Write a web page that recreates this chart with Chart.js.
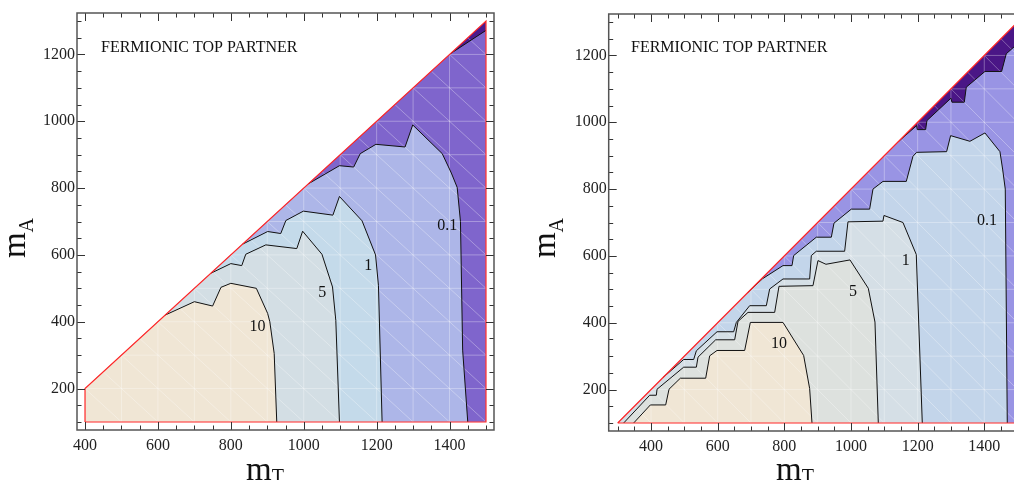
<!DOCTYPE html>
<html>
<head>
<meta charset="utf-8">
<script src="https://cdn.jsdelivr.net/npm/chart.js@4.4.0/dist/chart.umd.min.js"></script>
<style>
  html, body { margin: 0; padding: 0; background: #fff; overflow: hidden; }
  body { width: 1014px; height: 480px; position: relative; }
  canvas { position: absolute; top: 0; }
  #cLeft { left: 0; }
  #cRight { left: 510px; }
</style>
</head>
<body>
<canvas id="cLeft" width="510" height="480"></canvas>
<canvas id="cRight" width="530" height="480"></canvas>
<script>
// ---- shared axis values ----
const xTicks = [400, 600, 800, 1000, 1200, 1400];
const yTicks = [200, 400, 600, 800, 1000, 1200];
const MINOR_STEP = 50;
const panelTitle = 'FERMIONIC TOP PARTNER';

// ---- left panel ----
const leftX = [378, 1522];
const leftY = [76, 1324];
const leftCorner = [[400, 100], [400, 200]];
const leftDomain = [[400, 100], [400, 200], [1500, 1300], [1500, 100]];
const leftC001 = [[1402, 1202], [1500, 1272]];
const leftC01 = [[1013, 813], [1098, 867], [1137, 863], [1155, 903], [1198, 931], [1278, 923], [1299, 989],
                 [1380, 903], [1405, 845], [1421, 802], [1430, 700], [1436, 315], [1450, 100]];
const leftC1 = [[832, 632], [901, 670], [937, 664], [951, 703], [999, 731], [1080, 719], [1098, 775],
                [1160, 702], [1197, 600], [1205, 509], [1215, 100]];
const leftC5 = [[745, 545], [800, 574], [830, 568], [841, 602], [896, 630], [981, 619], [997, 671],
                [1050, 602], [1079, 504], [1088, 404], [1098, 100]];
const leftC10 = [[620, 420], [700, 460], [750, 447], [773, 503], [800, 515], [870, 500], [901, 425],
                 [907, 400], [919, 305], [926, 100]];
const leftLabels = [[1394, 686, '0.1'], [1177, 566, '1'], [1051, 488, '5'], [873, 385, '10']];
const leftColors = ['#4b198c', '#7f65cc', '#adb6e8', '#c4daea', '#d3dee4', '#f0e6d5'];

// ---- right panel ----
const rightX = [273, 1524];
const rightY = [76, 1324];
const rightCorner = [[300, 100]];
const rightDomain = [[300, 100], [1500, 1300], [1500, 100]];
const rightC001 = [[1140, 940], [1197, 990], [1199, 978], [1224, 978], [1228, 1005], [1300, 1072], [1303, 1060],
                   [1340, 1060], [1346, 1105], [1402, 1152], [1452, 1152], [1466, 1205], [1500, 1235]];
const rightC01 = [[690, 490], [735, 532], [796, 571], [823, 571], [828, 601], [896, 656], [941, 656], [949, 698],
                  [1001, 740], [1056, 740], [1066, 800], [1096, 823], [1166, 823], [1186, 898], [1197, 910],
                  [1287, 912], [1299, 960], [1357, 943], [1402, 968], [1447, 912], [1455, 860], [1463, 800], [1469, 100]];
const rightC1 = [[436, 236], [498, 290], [528, 290], [536, 316], [598, 373], [648, 373], [656, 401], [696, 451],
                 [746, 451], [756, 501], [796, 531], [876, 531], [881, 601], [896, 614], [981, 614], [991, 702],
                 [1096, 704], [1099, 721], [1156, 700], [1196, 604], [1214, 100]];
const rightC5 = [[318, 100], [396, 183], [416, 183], [418, 201], [498, 267], [536, 267], [541, 297], [594, 349],
                 [651, 349], [661, 404], [691, 431], [771, 431], [784, 509], [886, 511], [901, 586], [925, 575],
                 [997, 588], [1052, 503], [1072, 402], [1082, 100]];
const rightC10 = [[348, 100], [398, 154], [444, 154], [454, 201], [488, 234], [564, 234], [576, 301], [598, 317],
                  [681, 317], [698, 401], [796, 401], [858, 302], [876, 203], [883, 100]];
const rightLabels = [[1408, 704, '0.1'], [1164, 584, '1'], [1006, 494, '5'], [784, 337, '10']];
const rightColors = ['#4a1686', '#9994e4', '#c3d5ea', '#d5dfe6', '#dde1de', '#f0e6d5'];

const SERIF = '"Liberation Serif", "Times New Roman", serif';

function toXY(arr) { return arr.map(p => ({ x: p[0], y: p[1] })); }

// region where the value is above a level: boundary corners + contour + close along bottom/right edge
function regionPolygon(contour, corner, domain) {
  const pts = [];
  const first = contour[0], last = contour[contour.length - 1];
  const bottom = domain[0][1];
  const xRight = domain[domain.length - 1][0];
  if (first[1] > bottom) pts.push(...corner);
  pts.push(...contour);
  if (last[1] > bottom) pts.push([xRight, bottom]);
  return pts;
}

function pix(chart, p) {
  return [chart.scales.x.getPixelForValue(p[0]), chart.scales.y.getPixelForValue(p[1])];
}

const panelPlugin = {
  id: 'panel',
  afterDatasetDraw(chart, args, opts) {
    const ds = chart.data.datasets[args.index];
    if (!ds.meshAfter) return;
    const ctx = chart.ctx;
    ctx.save();
    ctx.beginPath();
    opts.domain.forEach((p, i) => {
      const [u, v] = pix(chart, p);
      if (i) ctx.lineTo(u, v); else ctx.moveTo(u, v);
    });
    ctx.closePath();
    ctx.clip();
    ctx.strokeStyle = 'rgba(255,255,255,0.32)';
    ctx.lineWidth = 1;
    ctx.beginPath();
    for (let k = 0; k <= 3200; k += 100) {
      let a = pix(chart, [k, 0]), b = pix(chart, [k, 1500]);
      ctx.moveTo(a[0], a[1]); ctx.lineTo(b[0], b[1]);
      a = pix(chart, [0, k]); b = pix(chart, [1700, k]);
      ctx.moveTo(a[0], a[1]); ctx.lineTo(b[0], b[1]);
      a = pix(chart, [k, 0]); b = pix(chart, [k - 1600, 1600]);
      ctx.moveTo(a[0], a[1]); ctx.lineTo(b[0], b[1]);
    }
    ctx.stroke();
    ctx.restore();
  },
  afterDraw(chart, args, opts) {
    const ctx = chart.ctx, a = chart.chartArea;
    const sx = chart.scales.x, sy = chart.scales.y;
    ctx.save();
    // inward ticks on all four sides
    ctx.strokeStyle = '#333';
    ctx.lineWidth = 1;
    ctx.beginPath();
    for (let v = Math.ceil(sx.min / MINOR_STEP) * MINOR_STEP; v <= sx.max; v += MINOR_STEP) {
      const u = Math.round(sx.getPixelForValue(v)) + 0.5;
      const len = xTicks.includes(v) ? 8 : 4.5;
      ctx.moveTo(u, a.bottom); ctx.lineTo(u, a.bottom - len);
      ctx.moveTo(u, a.top); ctx.lineTo(u, a.top + len);
    }
    for (let v = Math.ceil(sy.min / MINOR_STEP) * MINOR_STEP; v <= sy.max; v += MINOR_STEP) {
      const w = Math.round(sy.getPixelForValue(v)) + 0.5;
      const len = yTicks.includes(v) ? 8 : 4.5;
      ctx.moveTo(a.left, w); ctx.lineTo(a.left + len, w);
      ctx.moveTo(a.right, w); ctx.lineTo(a.right - len, w);
    }
    ctx.stroke();
    ctx.strokeStyle = '#555';
    ctx.lineWidth = 1.5;
    ctx.strokeRect(a.left, a.top, a.right - a.left, a.bottom - a.top);

    // panel title
    ctx.fillStyle = '#111';
    ctx.font = '16px ' + SERIF;
    ctx.textAlign = 'left';
    ctx.textBaseline = 'alphabetic';
    ctx.fillText(panelTitle, a.left + opts.titleDx, 52);

    // contour labels
    ctx.textAlign = 'center';
    ctx.textBaseline = 'middle';
    opts.labels.forEach(l => {
      const [u, v] = pix(chart, l);
      ctx.fillText(l[2], u, v);
    });

    // axis titles with subscripts
    ctx.textAlign = 'left';
    ctx.textBaseline = 'alphabetic';
    ctx.font = '33px ' + SERIF;
    const mw = ctx.measureText('m').width;
    ctx.font = '20px ' + SERIF;
    const tw = ctx.measureText('T').width;
    const aw = ctx.measureText('A').width;
    let s = opts.xTitleX - (mw + tw) / 2;
    ctx.font = '33px ' + SERIF;
    ctx.fillText('m', s, 480);
    ctx.font = '20px ' + SERIF;
    ctx.fillText('T', s + mw, 483);

    ctx.translate(opts.yTitleX, opts.yTitleY);
    ctx.rotate(-Math.PI / 2);
    s = -(mw + aw) / 2;
    ctx.font = '33px ' + SERIF;
    ctx.fillText('m', s, 0);
    ctx.font = '20px ' + SERIF;
    ctx.fillText('A', s + mw, 8);
    ctx.restore();
  }
};

function makePanel(canvasId, p) {
  const contours = [p.c001, p.c01, p.c1, p.c5, p.c10];
  const datasets = [];
  // domain: everything below the lowest level
  datasets.push({
    data: toXY(p.domain), showLine: true, fill: 'shape', backgroundColor: p.colors[0],
    borderWidth: 0, borderColor: 'transparent', pointRadius: 0, order: 20
  });
  contours.forEach((c, i) => {
    datasets.push({
      data: toXY(regionPolygon(c, p.corner, p.domain)), showLine: true, fill: 'shape',
      backgroundColor: p.colors[i + 1], borderWidth: 0, borderColor: 'transparent',
      pointRadius: 0, order: 19 - i, meshAfter: i === contours.length - 1
    });
  });
  contours.forEach(c => {
    datasets.push({
      data: toXY(c), showLine: true, fill: false, borderColor: '#111', borderWidth: 1,
      pointRadius: 0, order: 5
    });
  });
  datasets.push({
    data: toXY([...p.domain, p.domain[0]]), showLine: true, fill: false,
    borderColor: '#ff2626', borderWidth: 1.2, pointRadius: 0, order: 0
  });

  const tickFont = { family: SERIF, size: 16 };
  return new Chart(document.getElementById(canvasId), {
    type: 'scatter',
    data: { datasets },
    options: {
      responsive: false,
      devicePixelRatio: 1,
      animation: false,
      events: [],
      layout: { padding: { top: p.padTop, right: p.padRight, left: 0, bottom: 0 } },
      plugins: {
        legend: { display: false },
        tooltip: { enabled: false },
        panel: {
          domain: p.domain, labels: p.labels, titleDx: p.titleDx,
          xTitleX: p.xTitleX, yTitleX: p.yTitleX, yTitleY: 238
        }
      },
      scales: {
        x: {
          type: 'linear', position: 'bottom', min: p.xRange[0], max: p.xRange[1],
          afterBuildTicks: s => { s.ticks = xTicks.map(v => ({ value: v })); },
          afterFit: s => { s.height = p.xHeight; },
          grid: { display: false, drawTicks: false },
          border: { display: false },
          ticks: { font: tickFont, color: '#222', padding: 6, maxRotation: 0, minRotation: 0,
                   autoSkip: false, callback: v => String(v) }
        },
        y: {
          type: 'linear', position: 'left', min: p.yRange[0], max: p.yRange[1],
          afterBuildTicks: s => { s.ticks = yTicks.map(v => ({ value: v })); },
          afterFit: s => { s.width = p.yWidth; },
          grid: { display: false, drawTicks: false },
          border: { display: false },
          ticks: { font: tickFont, color: '#222', padding: 2, autoSkip: false, callback: v => String(v) }
        }
      }
    },
    plugins: [panelPlugin]
  });
}

makePanel('cLeft', {
  xRange: leftX, yRange: leftY, corner: leftCorner, domain: leftDomain,
  c001: leftC001, c01: leftC01, c1: leftC1, c5: leftC5, c10: leftC10,
  labels: leftLabels, colors: leftColors,
  padTop: 13, padRight: 16, yWidth: 77, xHeight: 50,
  titleDx: 24, xTitleX: 265, yTitleX: 25
});

makePanel('cRight', {
  xRange: rightX, yRange: rightY, corner: rightCorner, domain: rightDomain,
  c001: rightC001, c01: rightC01, c1: rightC1, c5: rightC5, c10: rightC10,
  labels: rightLabels, colors: rightColors,
  padTop: 14, padRight: 14.4, yWidth: 98.7, xHeight: 49,
  titleDx: 22.3, xTitleX: 285, yTitleX: 45
});
</script>
</body>
</html>
